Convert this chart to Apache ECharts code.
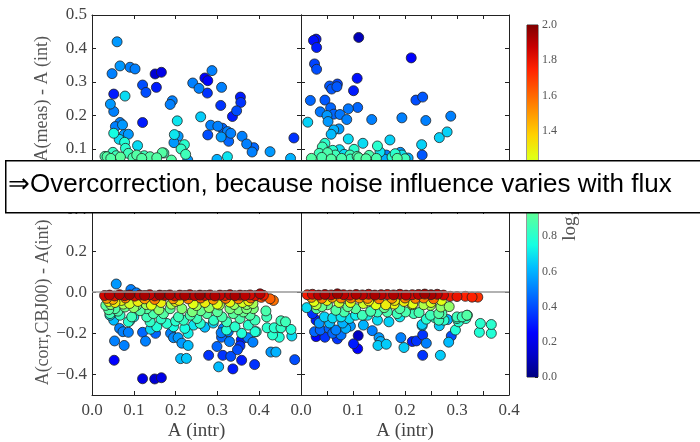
<!DOCTYPE html>
<html><head><meta charset="utf-8">
<script src="https://cdn.jsdelivr.net/npm/echarts@6/dist/echarts.min.js"></script>
<style>html,body{margin:0;padding:0;background:#fff}#c{width:700px;height:442px}</style>
</head><body><div id="c"></div>
<script>
// colour value = log10 quantity (0..2), data = [A(intr), delta, colourValue]
const topLeft = [[.060,.420,.55],[.067,.348,.55],[.048,.325,.5],[.091,.344,.5],[.103,.339,.5],[.151,.324,.15],[.166,.329,.2],[.121,.291,.4],[.129,.269,.4],[.154,.284,.3],[.052,.264,.3],[.079,.258,.68],[.044,.234,.55],[.052,.212,.5],[.192,.244,.5],[.187,.233,.5],[.204,.184,.7],[.121,.179,.3],[.241,.297,.5],[.256,.281,.5],[.270,.312,.25],[.277,.304,.25],[.287,.334,.5],[.276,.267,.35],[.310,.284,.5],[.308,.230,.35],[.355,.255,.3],[.356,.239,.35],[.346,.214,.4],[.336,.197,.3],[.260,.196,.65],[.284,.171,.5],[.301,.168,.5],[.312,.162,.45],[.324,.152,.5],[.332,.147,.5],[.277,.142,.4],[.309,.136,.55],[.327,.123,.45],[.359,.138,.5],[.370,.115,.5],[.387,.104,.45],[.383,.091,.5],[.426,.092,.55],[.475,.072,.6],[.483,.133,.35],[.067,.179,.5],[.073,.172,.55],[.056,.167,.5],[.077,.143,.55],[.087,.144,.55],[.052,.147,.75],[.065,.129,.68],[.078,.120,.78],[.080,.102,.8],[.050,.090,.82],[.109,.110,.68],[.197,.143,.7],[.206,.138,.55],[.196,.119,.55],[.221,.113,.8],[.213,.100,.82],[.224,.084,.85],[.168,.089,.9],[.139,.077,.9],[.155,.074,.9],[.107,.082,.9],[.087,.087,.85],[.036,.077,.9],[.324,.077,.7],[.299,.069,.6],[.119,.072,.9],[.190,.067,.9],[.229,.067,.55],[.031,.078,.88],[.045,.072,.9],[.058,.080,.85],[.068,.076,.92],[.098,.074,.88],[.125,.080,.85],[.172,.088,.85]];

const topRight = [[.029,.428,.28],[.024,.424,.28],[.030,.403,.3],[.111,.433,.1],[.212,.372,.25],[.026,.354,.38],[.030,.338,.4],[.108,.311,.28],[.055,.288,.42],[.070,.294,.38],[.059,.279,.42],[.069,.286,.42],[.101,.274,.3],[.018,.245,.45],[.046,.246,.42],[.057,.223,.45],[.109,.224,.45],[.091,.220,.48],[.221,.246,.4],[.234,.255,.42],[.037,.211,.48],[.063,.204,.45],[.075,.203,.48],[.050,.200,.55],[.052,.182,.55],[.013,.180,.66],[.088,.188,.5],[.136,.188,.5],[.194,.193,.5],[.240,.185,.5],[.288,.198,.5],[.073,.160,.55],[.063,.157,.6],[.058,.144,.62],[.091,.130,.68],[.119,.117,.68],[.171,.127,.66],[.147,.109,.8],[.046,.117,.8],[.041,.106,.85],[.061,.096,.8],[.074,.098,.68],[.102,.099,.8],[.035,.087,.85],[.051,.089,.88],[.066,.082,.85],[.083,.084,.68],[.094,.082,.85],[.111,.074,.9],[.131,.081,.88],[.152,.091,.7],[.164,.082,.5],[.175,.076,.8],[.191,.090,.55],[.181,.086,.8],[.194,.082,.7],[.232,.113,.66],[.233,.082,.42],[.266,.134,.66],[.281,.151,.66],[.206,.073,.6],[.108,.078,.88],[.020,.072,.9],[.040,.075,.88],[.058,.070,.9],[.078,.072,.88],[.095,.070,.85],[.125,.071,.9],[.145,.072,.88],[.160,.070,.6],[.185,.072,.9],[.200,.071,.85]];

const bottomLeft = [[.058,.040,.55],[.093,.013,.5],[.106,-.003,.5],[.052,-.136,.62],[.066,-.176,.5],[.074,-.192,.5],[.087,-.195,.5],[.121,-.195,.45],[.152,-.200,.45],[.054,-.237,.5],[.077,-.259,.5],[.128,-.238,.5],[.188,-.200,.5],[.195,-.221,.52],[.206,-.221,.55],[.215,-.248,.55],[.230,-.259,.62],[.212,-.323,.62],[.226,-.322,.64],[.053,-.331,.25],[.121,-.421,.2],[.150,-.422,.15],[.166,-.416,.2],
[.279,-.307,.35],[.303,-.363,.62],[.337,-.373,.3],[.358,-.331,.3],[.389,-.352,.35],[.313,-.307,.35],[.332,-.312,.4],[.348,-.280,.4],[.354,-.261,.35],[.357,-.232,.3],[.299,-.264,.45],[.310,-.219,.45],[.329,-.240,.5],[.326,-.192,.5],[.314,-.176,.5],[.309,-.197,.5],[.373,-.221,.5],[.385,-.243,.5],[.428,-.291,.55],[.440,-.291,.6],[.485,-.328,.4],[.478,-.213,.68],[.448,-.219,.78],[.432,-.208,.8],[.419,-.173,.8],[.436,-.173,.8],[.452,-.173,.82],[.476,-.181,.78],[.452,-.139,.85],[.463,-.144,.85],[.416,-.091,.88],[.418,-.120,.85],[.393,-.192,.78],
[.043,-.112,.68],[.060,-.100,.66],[.100,-.120,.7],[.090,-.140,.7],[.270,-.170,.62],[.290,-.150,.66],[.243,-.160,.7],[.140,-.180,.68],
[.033,-.064,.92],[.055,-.080,.9],[.079,-.072,.95],[.107,-.064,.95],[.131,-.080,.9],[.043,-.104,.85],[.067,-.112,.82],[.095,-.120,.85],[.087,-.144,.8],[.131,-.120,.85],[.147,-.104,.88],[.171,-.104,.9],[.155,-.072,.95],[.187,-.080,.92],[.207,-.120,.85],[.219,-.136,.82],[.235,-.112,.88],[.251,-.128,.85],[.259,-.152,.8],[.275,-.104,.9],[.291,-.136,.82],[.311,-.120,.88],[.322,-.144,.85],[.338,-.104,.92],[.354,-.128,.88],[.362,-.096,.95],[.378,-.112,.9],[.386,-.080,1.0],[.390,-.136,.85],[.374,-.160,.8],[.390,-.192,.78],[.342,-.168,.8],[.322,-.184,.78],[.358,-.200,.78],[.222,-.176,.75],[.230,-.200,.72],[.195,-.168,.75],[.179,-.152,.8],[.155,-.168,.78],[.139,-.144,.82],
[.040,-.085,.9],[.062,-.092,.88],[.115,-.090,.9],[.165,-.130,.82],[.200,-.140,.8],[.260,-.090,.95],[.300,-.095,.92],[.330,-.080,1.0],[.350,-.085,.98],[.370,-.060,1.05],
[.045,-.060,1.05],[.075,-.058,1.1],[.100,-.075,1.05],[.130,-.060,1.1],[.160,-.085,1.05],[.190,-.058,1.1],[.215,-.080,1.02],[.250,-.065,1.1],[.280,-.075,1.05],[.305,-.062,1.1],[.340,-.060,1.08],[.370,-.080,1.0],[.385,-.055,1.1],[.240,-.095,1.0],
[.040,-.045,1.25],[.055,-.050,1.3],[.070,-.040,1.28],[.090,-.055,1.22],[.110,-.045,1.3],[.142,-.063,1.25],[.165,-.050,1.3],[.200,-.045,1.28],[.208,-.040,1.3],[.242,-.056,1.25],[.270,-.050,1.3],[.300,-.058,1.25],[.330,-.048,1.28],[.360,-.050,1.22],[.375,-.042,1.3],
[.035,-.030,1.5],[.050,-.035,1.45],[.080,-.028,1.55],[.126,-.032,1.5],[.150,-.035,1.55],[.194,-.032,1.5],[.230,-.032,1.55],[.260,-.028,1.6],[.290,-.035,1.5],[.320,-.030,1.58],[.350,-.032,1.55],[.380,-.028,1.6],[.426,-.032,1.62],[.434,-.040,1.58],[.405,-.025,1.65],
[.030,-.016,1.85],[.042,-.014,1.9],[.054,-.018,1.8],[.066,-.012,1.92],[.078,-.017,1.88],[.090,-.013,1.95],[.102,-.019,1.82],[.114,-.014,1.9],[.126,-.016,1.93],[.138,-.012,1.88],[.150,-.018,1.85],[.162,-.014,1.95],[.174,-.016,1.9],[.186,-.013,1.92],[.198,-.018,1.85],[.210,-.014,1.9],[.222,-.016,1.93],[.234,-.012,1.88],[.246,-.017,1.9],[.258,-.014,1.95],[.270,-.016,1.85],[.282,-.013,1.9],[.294,-.018,1.92],[.306,-.014,1.88],[.318,-.016,1.8],[.330,-.012,1.9],[.342,-.017,1.93],[.354,-.014,1.88],[.366,-.016,1.9],[.378,-.013,1.85],[.390,-.017,1.82],[.402,-.008,1.9],[.410,-.015,1.78]];

const bottomRight = [[.011,-.075,.68],[.022,-.104,.35],[.029,-.136,.3],[.026,-.192,.45],[.037,-.184,.45],[.029,-.216,.25],[.046,-.219,.35],[.054,-.176,.45],[.061,-.200,.45],[.070,-.227,.35],[.067,-.184,.5],[.077,-.208,.48],[.086,-.176,.6],[.110,-.211,.12],[.101,-.251,.3],[.109,-.275,.25],[.137,-.187,.5],[.150,-.221,.55],[.148,-.259,.65],[.164,-.253,.65],[.153,-.240,.6],[.192,-.221,.5],[.198,-.269,.65],[.214,-.240,.3],[.222,-.237,.35],[.241,-.248,.5],[.234,-.208,.35],[.233,-.163,.65],[.234,-.307,.35],[.268,-.307,.65],[.284,-.243,.62],[.289,-.213,.4],[.266,-.163,.65],[.282,-.133,.6],[.297,-.184,.78],[.303,-.144,.8],[.317,-.128,.82],[.320,-.112,.85],[.300,-.120,.85],[.345,-.152,.8],[.366,-.157,.8],[.343,-.195,.78],[.366,-.200,.78],[.265,-.136,.85],[.265,-.104,.9],[.269,-.072,1.05],[.237,-.056,1.1],[.249,-.064,1.1],[.215,-.056,1.25],[.241,-.131,.8],[.227,-.099,.88],[.214,-.096,.85],[.258,-.125,.82],
[.045,-.120,.66],[.061,-.125,.68],[.077,-.120,.7],[.093,-.128,.68],[.105,-.112,.72],[.128,-.112,.72],[.147,-.136,.68],[.169,-.144,.66],[.190,-.120,.7],[.233,-.157,.66],[.035,-.150,.55],[.080,-.150,.6],[.120,-.160,.6],[.055,-.150,.62],[.095,-.165,.55],
[.051,-.061,.95],[.067,-.088,.9],[.083,-.096,.88],[.105,-.080,.92],[.118,-.112,.85],[.134,-.093,.88],[.147,-.096,.85],[.166,-.096,.88],[.185,-.104,.85],[.201,-.096,.88],[.217,-.104,.85],[.249,-.112,.85],[.271,-.104,.88],[.275,-.136,.8],[.300,-.128,.82],[.310,-.120,.85],[.319,-.112,.9],[.030,-.080,.9],[.040,-.070,.95],[.090,-.070,.95],[.160,-.075,.95],[.190,-.080,.9],
[.029,-.061,1.15],[.073,-.050,1.2],[.144,-.061,1.25],[.163,-.061,1.3],[.198,-.045,1.3],[.179,-.058,1.28],[.214,-.061,1.2],[.236,-.061,1.12],[.285,-.070,1.05],[.025,-.045,1.25],[.050,-.040,1.3],[.095,-.050,1.25],[.120,-.055,1.2],[.180,-.040,1.3],[.250,-.050,1.22],[.270,-.040,1.25],[.130,-.042,1.3],
[.020,-.025,1.5],[.040,-.030,1.55],[.060,-.025,1.5],[.077,-.028,1.55],[.096,-.028,1.55],[.112,-.028,1.5],[.128,-.030,1.52],[.150,-.032,1.55],[.175,-.030,1.5],[.200,-.028,1.55],[.220,-.030,1.55],[.236,-.028,1.55],[.255,-.032,1.6],
[.012,-.012,1.78],[.022,-.010,1.85],[.034,-.014,1.9],[.046,-.011,1.92],[.058,-.013,1.88],[.070,-.008,1.95],[.082,-.012,1.9],[.094,-.014,1.85],[.106,-.011,1.92],[.118,-.013,1.9],[.130,-.010,1.88],[.142,-.014,1.93],[.154,-.012,1.9],[.166,-.011,1.85],[.178,-.013,1.92],[.190,-.010,1.88],[.202,-.014,1.9],[.214,-.012,1.85],[.226,-.011,1.9],[.238,-.009,1.95],[.250,-.012,1.93],[.262,-.010,1.9],[.274,-.014,1.85],[.287,-.020,1.78],[.300,-.021,1.8],[.316,-.020,1.75],[.329,-.024,1.75],[.340,-.024,1.72]];

const colourRange = [0, 2];
const colourTicks = [0, 0.2, 0.4, 0.6, 0.8, 1.0, 1.2, 1.4, 1.6, 1.8, 2.0];
const bottomYTicks = [-0.4, -0.2, 0.0, 0.2, 0.4];
const jet = ['#000080','#0000c8','#0000ff','#0040ff','#0080ff','#00bfff','#15ffe2','#48ffaf','#7bff7b','#afff48','#e2ff15','#ffd200','#ff9700','#ff5c00','#ff2100','#c80000','#800000'];

const serif = 'Liberation Serif';
const fmt = v => (v < 0 ? '\u2212' : '') + Math.abs(v).toFixed(1);
const byC = a => a.slice().sort((p, q) => p[2] - q[2]);

function axis(extra) {
  return Object.assign({
    type: 'value',
    axisLine: { show: true, onZero: false, lineStyle: { color: '#222', width: 1 } },
    axisTick: { show: true, inside: true, length: 4, lineStyle: { color: '#222', width: 1 } },
    splitLine: { show: false },
    axisLabel: { show: false, fontFamily: serif, fontSize: 17, color: '#444', margin: 5, formatter: fmt }
  }, extra);
}
const grids = [
  { left: 92, top: 15, width: 209, height: 167.5 },
  { left: 301, top: 15, width: 208, height: 167.5 },
  { left: 92, top: 210, width: 209, height: 188 },
  { left: 301, top: 210, width: 208, height: 188 },
  { left: 527, top: 25, width: 11, height: 352, show: true, borderColor: '#333', borderWidth: 1 }
];
const tenth = v => Math.abs(v * 10 - Math.round(v * 10)) < 1e-6;
const xAxes = [
  axis({ gridIndex: 0, min: 0, max: 0.5, interval: 0.1, position: 'bottom' }),
  axis({ gridIndex: 1, min: 0, max: 0.4, interval: 0.05, position: 'bottom' }),
  axis({ gridIndex: 2, min: 0, max: 0.5, interval: 0.1, position: 'bottom',
    axisLabel: { show: true, fontFamily: serif, fontSize: 17, color: '#444', margin: 7, formatter: v => v > 0.45 ? '' : fmt(v) },
    name: 'A (intr)', nameLocation: 'middle', nameGap: 27, nameTextStyle: { fontFamily: serif, fontSize: 19, color: '#444' } }),
  axis({ gridIndex: 3, min: 0, max: 0.4, interval: 0.05, position: 'bottom',
    axisLabel: { show: true, fontFamily: serif, fontSize: 17, color: '#444', margin: 7, formatter: v => tenth(v) ? fmt(v) : '' },
    name: 'A (intr)', nameLocation: 'middle', nameGap: 27, nameTextStyle: { fontFamily: serif, fontSize: 19, color: '#444' } }),
  axis({ gridIndex: 0, min: 0, max: 0.5, interval: 0.1, position: 'top' }),
  axis({ gridIndex: 1, min: 0, max: 0.4, interval: 0.05, position: 'top' }),
  axis({ gridIndex: 2, min: 0, max: 0.5, interval: 0.1, position: 'top' }),
  axis({ gridIndex: 3, min: 0, max: 0.4, interval: 0.05, position: 'top' }),
  { gridIndex: 4, type: 'category', data: [''], show: false }
];
const bTick = { show: true, inside: true, length: 4, lineStyle: { color: '#222' }, customValues: bottomYTicks };
const yAxes = [
  axis({ gridIndex: 0, min: 0, max: 0.5, interval: 0.1, position: 'left',
    axisLabel: { show: true, fontFamily: serif, fontSize: 17, color: '#444', margin: 5, formatter: fmt },
    name: 'A(meas) - A (int)', nameLocation: 'middle', nameGap: 41, nameTextStyle: { fontFamily: serif, fontSize: 18, color: '#555' } }),
  axis({ gridIndex: 1, min: 0, max: 0.5, interval: 0.1, position: 'left' }),
  axis({ gridIndex: 2, min: -0.5, max: 0.4, position: 'left', axisTick: bTick,
    axisLabel: { show: true, fontFamily: serif, fontSize: 17, color: '#444', margin: 5, formatter: fmt, customValues: bottomYTicks },
    name: 'A(corr,CBJ00) - A(int)', nameLocation: 'middle', nameGap: 40, nameTextStyle: { fontFamily: serif, fontSize: 18, color: '#555' } }),
  axis({ gridIndex: 3, min: -0.5, max: 0.4, position: 'left', axisTick: bTick }),
  axis({ gridIndex: 0, min: 0, max: 0.5, interval: 0.1, position: 'right' }),
  axis({ gridIndex: 1, min: 0, max: 0.5, interval: 0.1, position: 'right' }),
  axis({ gridIndex: 2, min: -0.5, max: 0.4, position: 'right', axisTick: bTick }),
  axis({ gridIndex: 3, min: -0.5, max: 0.4, position: 'right', axisTick: bTick }),
  { gridIndex: 4, type: 'value', min: colourRange[0], max: colourRange[1], position: 'right',
    axisLine: { show: false }, splitLine: { show: false },
    axisTick: { show: true, inside: true, length: 3, lineStyle: { color: '#222' }, customValues: colourTicks },
    axisLabel: { show: true, fontFamily: serif, fontSize: 12, color: '#555', margin: 4, formatter: v => v.toFixed(1), customValues: colourTicks },
    name: 'log\u2081\u2080(S/N)', nameLocation: 'middle', nameRotate: 90, nameGap: 22,
    nameTextStyle: { fontFamily: serif, fontSize: 19, color: '#555' } }
];
const sc = (d, i) => ({ type: 'scatter', xAxisIndex: i, yAxisIndex: i, data: byC(d), symbolSize: 10, z: 3,
  itemStyle: { borderColor: '#222', borderWidth: 0.8, opacity: 1 } });
const zeroLine = i => ({ type: 'scatter', xAxisIndex: i, yAxisIndex: i, data: [], z: 1,
  markLine: { silent: true, symbol: 'none', label: { show: false }, data: [{ yAxis: 0 }],
    lineStyle: { color: '#999', width: 1.5, type: 'solid' } } });
const stops = jet.map((c, k) => ({ offset: k / (jet.length - 1), color: c }));

const chart = echarts.init(document.getElementById('c'), null, { renderer: 'canvas' });
chart.setOption({
  animation: false,
  backgroundColor: '#fff',
  grid: grids, xAxis: xAxes, yAxis: yAxes,
  visualMap: { type: 'continuous', show: false, min: colourRange[0], max: colourRange[1], dimension: 2,
    seriesIndex: [0, 1, 2, 3], inRange: { color: jet } },
  series: [
    sc(topLeft, 0), sc(topRight, 1), sc(bottomLeft, 2), sc(bottomRight, 3),
    zeroLine(2), zeroLine(3),
    { type: 'bar', xAxisIndex: 8, yAxisIndex: 8, barWidth: '100%', data: [colourRange[1]],
      itemStyle: { color: new echarts.graphic.LinearGradient(0, 1, 0, 0, stops) } }
  ],
  graphic: [
    { type: 'rect', zlevel: 1, z: 100, left: 5, top: 160, shape: { width: 720, height: 52 },
      style: { fill: '#fff', stroke: '#000', lineWidth: 1.5 } },
    { type: 'text', zlevel: 1, z: 101, left: 8, top: 172,
      style: { text: '\u21d2Overcorrection, because noise influence varies with flux',
        font: '26px "Liberation Sans"', fill: '#000' } }
  ]
});
</script></body></html>
